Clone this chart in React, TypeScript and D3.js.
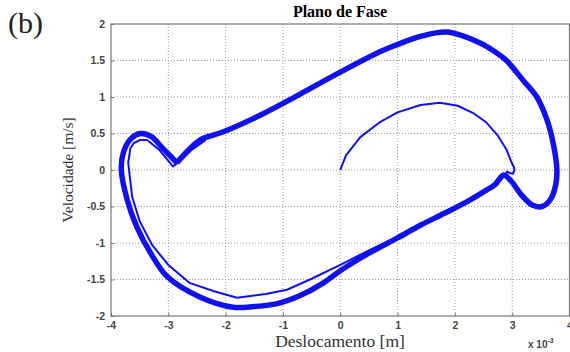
import { useRef, useEffect } from 'react';
import * as d3 from 'd3';

// displacement in units of 1e-3 m, velocity in m/s
const transientX = [0, 0.1, 0.35, 0.7, 1.0, 1.4, 1.74, 2.05, 2.32, 2.55, 2.75, 2.9, 2.98, 3.04, 3.02, 2.95, 2.91, 2.88,
  2.75, 2.5, 2.2, 1.8, 1.4, 1.0, 0.5, 0, -0.5, -0.93, -1.3, -1.8, -2.2, -2.62, -3.0, -3.28, -3.5, -3.63, -3.7, -3.66,
  -3.6, -3.5, -3.37, -3.15, -2.92, -2.8, -2.6, -2.35];
const transientV = [0, 0.2, 0.45, 0.66, 0.79, 0.89, 0.92, 0.88, 0.78, 0.65, 0.47, 0.28, 0.12, 0.02, -0.05, -0.04, -0.02, -0.07,
  -0.18, -0.3, -0.42, -0.58, -0.75, -0.92, -1.1, -1.3, -1.49, -1.64, -1.7, -1.75, -1.66, -1.55, -1.3, -1.03, -0.7, -0.37, 0.1, 0.3,
  0.37, 0.41, 0.41, 0.27, 0.05, 0.12, 0.27, 0.41];

const cycleX = [-2.85, -2.65, -2.45, -2.05, -1.4, -0.7, 0, 0.69, 1.0, 1.4, 1.86, 2.44, 2.7, 2.9, 3.2, 3.43, 3.61, 3.72, 3.78,
  3.76, 3.67, 3.52, 3.35, 3.15, 2.98, 2.85, 2.7, 2.5, 2.2, 1.8, 1.39, 1.0, 0.5, 0, -0.3, -0.7, -1.1, -1.5, -1.87, -2.45,
  -3.02, -3.3, -3.55, -3.72, -3.82, -3.78, -3.65, -3.49, -3.3, -3.1, -2.85];
const cycleV = [0.1, 0.27, 0.41, 0.52, 0.75, 1.04, 1.34, 1.62, 1.72, 1.83, 1.89, 1.74, 1.62, 1.5, 1.22, 1.0, 0.68, 0.35, 0.0,
  -0.2, -0.4, -0.5, -0.48, -0.33, -0.15, -0.07, -0.2, -0.3, -0.44, -0.6, -0.76, -0.93, -1.14, -1.38, -1.55, -1.72, -1.83, -1.87,
  -1.88, -1.74, -1.46, -1.15, -0.78, -0.4, 0.0, 0.25, 0.43, 0.5, 0.46, 0.3, 0.1];

const xTicks = [-4, -3, -2, -1, 0, 1, 2, 3, 4];
const yTicks = [-2, -1.5, -1, -0.5, 0, 0.5, 1, 1.5, 2];

const W = 570;
const H = 352;
const margin = { left: 111, right: 0.5, top: 24, bottom: 36 };

const App = () => {
  const svgRef = useRef<SVGSVGElement>(null);

  useEffect(() => {
    const svg = d3.select(svgRef.current);
    svg.selectAll('*').remove();

    const x = d3.scaleLinear().domain([-4, 4]).range([margin.left, W - margin.right]);
    const y = d3.scaleLinear().domain([-2, 2]).range([H - margin.bottom, margin.top]);

    // grid
    const grid = svg.append('g');
    grid.selectAll('.gx').data(xTicks.slice(1, -1)).join('line')
      .attr('x1', d => x(d)).attr('x2', d => x(d))
      .attr('y1', y(-2)).attr('y2', y(2))
      .attr('stroke', '#999').attr('stroke-width', 1).attr('stroke-dasharray', '1,2');
    grid.selectAll('.gy').data(yTicks.slice(1, -1)).join('line')
      .attr('y1', d => y(d)).attr('y2', d => y(d))
      .attr('x1', x(-4)).attr('x2', x(4))
      .attr('stroke', '#999').attr('stroke-width', 1).attr('stroke-dasharray', '1,2');

    const ln = d3.line<[number, number]>()
      .x(d => x(d[0])).y(d => y(d[1]))
      .curve(d3.curveCatmullRom.alpha(0.5));

    const cyc = cycleX.map((v, i) => [v, cycleV[i]] as [number, number]);
    const tr = transientX.map((v, i) => [v, transientV[i]] as [number, number]);

    svg.append('path').datum(cyc).attr('d', ln)
      .attr('fill', 'none').attr('stroke', '#1010f0').attr('stroke-width', 5.5).attr('stroke-linejoin', 'round');
    svg.append('path').datum(tr).attr('d', ln.curve(d3.curveLinear))
      .attr('fill', 'none').attr('stroke', '#1010f0').attr('stroke-width', 2).attr('stroke-linejoin', 'round');

    // box
    svg.append('rect')
      .attr('x', x(-4)).attr('y', y(2))
      .attr('width', x(4) - x(-4)).attr('height', y(-2) - y(2))
      .attr('fill', 'none').attr('stroke', '#777').attr('stroke-width', 1.2);

    const xAxis = d3.axisBottom(x).tickValues(xTicks).tickSize(-3).tickPadding(6)
      .tickFormat(d => d3.format('d')(d as number).replace('−', '-'));
    const gx = svg.append('g').attr('transform', `translate(0,${y(-2)})`).call(xAxis);
    gx.select('.domain').remove();
    gx.selectAll('line').attr('stroke', '#777');
    gx.selectAll('text').attr('font-family', 'Arial, Liberation Sans, sans-serif')
      .attr('font-weight', 'bold').attr('font-size', 10.5).attr('fill', '#444');

    const yAxis = d3.axisLeft(y).tickValues(yTicks).tickSize(-3).tickPadding(6)
      .tickFormat(d => String(d));
    const gy = svg.append('g').attr('transform', `translate(${x(-4)},0)`).call(yAxis);
    gy.select('.domain').remove();
    gy.selectAll('line').attr('stroke', '#777');
    gy.selectAll('text').attr('font-family', 'Arial, Liberation Sans, sans-serif')
      .attr('font-weight', 'bold').attr('font-size', 10.5).attr('fill', '#444');

    svg.append('text').attr('x', 340).attr('y', 17).attr('text-anchor', 'middle')
      .attr('font-family', 'Liberation Serif, serif').attr('font-weight', 'bold').attr('font-size', 16)
      .text('Plano de Fase');

    svg.append('text').attr('x', 340).attr('y', 347).attr('text-anchor', 'middle')
      .attr('font-family', 'Liberation Serif, serif').attr('font-size', 17.5).attr('fill', '#333')
      .text('Deslocamento [m]');

    svg.append('text').attr('transform', `translate(73,${y(0)}) rotate(-90)`).attr('text-anchor', 'middle')
      .attr('font-family', 'Liberation Serif, serif').attr('font-size', 15.5).attr('fill', '#333')
      .text('Velocidade [m/s]');

    const mult = svg.append('text').attr('x', 528).attr('y', 348)
      .attr('font-family', 'Arial, Liberation Sans, sans-serif').attr('font-weight', 'bold').attr('font-size', 10).attr('fill', '#444');
    mult.append('tspan').text('x 10');
    mult.append('tspan').attr('dy', -5).attr('font-size', 7).text('-3');

    svg.append('text').attr('x', 8).attr('y', 33)
      .attr('font-family', 'Liberation Serif, serif').attr('font-size', 30).attr('fill', '#222')
      .text('(b)');
  }, []);

  return (
    <svg ref={svgRef} width={W} height={H}
      style={{ position: 'absolute', left: 0, top: 0, background: '#fff' }} />
  );
};

export default App;
